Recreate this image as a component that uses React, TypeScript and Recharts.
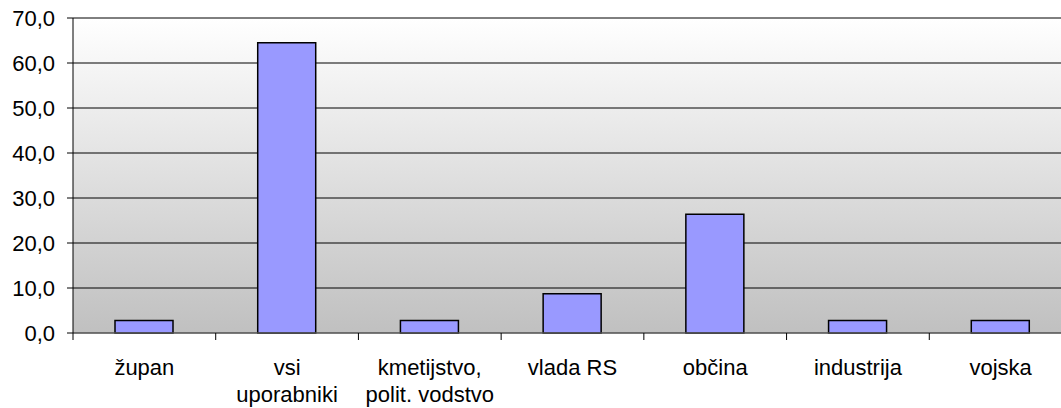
import React from 'react';
import { BarChart, Bar, XAxis, YAxis, CartesianGrid } from 'recharts';

const categories = [
  'župan',
  'vsi\nuporabniki',
  'kmetijstvo,\npolit. vodstvo',
  'vlada RS',
  'občina',
  'industrija',
  'vojska',
];
const shares = [2.8, 64.5, 2.8, 8.7, 26.4, 2.8, 2.8];
const yTicks = [0, 10, 20, 30, 40, 50, 60, 70];

const data = categories.map((name, i) => ({ name, value: shares[i] }));

const CHART_W = 1075;
const CHART_H = 408;
const MARGIN = { top: 18, right: 3, left: 0, bottom: 0 };
const Y_W = 73;
const FONT = '"Liberation Sans", Arial, sans-serif';

const bandWidth = (CHART_W - MARGIN.left - MARGIN.right - Y_W) / categories.length;

const CategoryTick: React.FC<any> = ({ x, y, payload, index }) => {
  const lines = String(payload.value).split('\n');
  const axisY = y - 8;
  const left = x - bandWidth / 2;
  return (
    <g>
      <line x1={left} x2={left} y1={axisY} y2={axisY + 7} stroke="#000" />
      {index === categories.length - 1 && (
        <line x1={left + bandWidth} x2={left + bandWidth} y1={axisY} y2={axisY + 7} stroke="#000" />
      )}
      <text x={x} y={axisY + 42} textAnchor="middle" fill="#000" fontSize={22} fontFamily={FONT}>
        {lines.map((l, i) => (
          <tspan key={i} x={x} dy={i === 0 ? 0 : 27}>
            {l}
          </tspan>
        ))}
      </text>
    </g>
  );
};

const fmt = (v: number) => v.toFixed(1).replace('.', ',');

export default function App() {
  return (
    <div style={{ position: 'absolute', left: 0, top: 0, width: 1061, height: 408, overflow: 'hidden', background: '#fff' }}>
      <BarChart width={CHART_W} height={CHART_H} data={data} margin={MARGIN} barSize={58}>
        <defs>
          <linearGradient id="plotBg" x1="0" y1="0" x2="0" y2="1">
            <stop offset="0%" stopColor="#ffffff" />
            <stop offset="100%" stopColor="#c0c0c0" />
          </linearGradient>
        </defs>
        <CartesianGrid vertical={false} stroke="#000" fill="url(#plotBg)" fillOpacity={1} />
        <XAxis
          dataKey="name"
          interval={0}
          height={75}
          stroke="#777"
          tickLine={false}
          tick={<CategoryTick />}
        />
        <YAxis
          width={Y_W}
          domain={[0, 70]}
          ticks={yTicks}
          interval={0}
          tickFormatter={fmt}
          stroke="#000"
          tickSize={6}
          tickMargin={12}
          tick={{ fill: '#000', fontSize: 22, fontFamily: FONT }}
        />
        <Bar dataKey="value" fill="#9999ff" stroke="#000" strokeWidth={1.5} isAnimationActive={false} />
      </BarChart>
    </div>
  );
}
